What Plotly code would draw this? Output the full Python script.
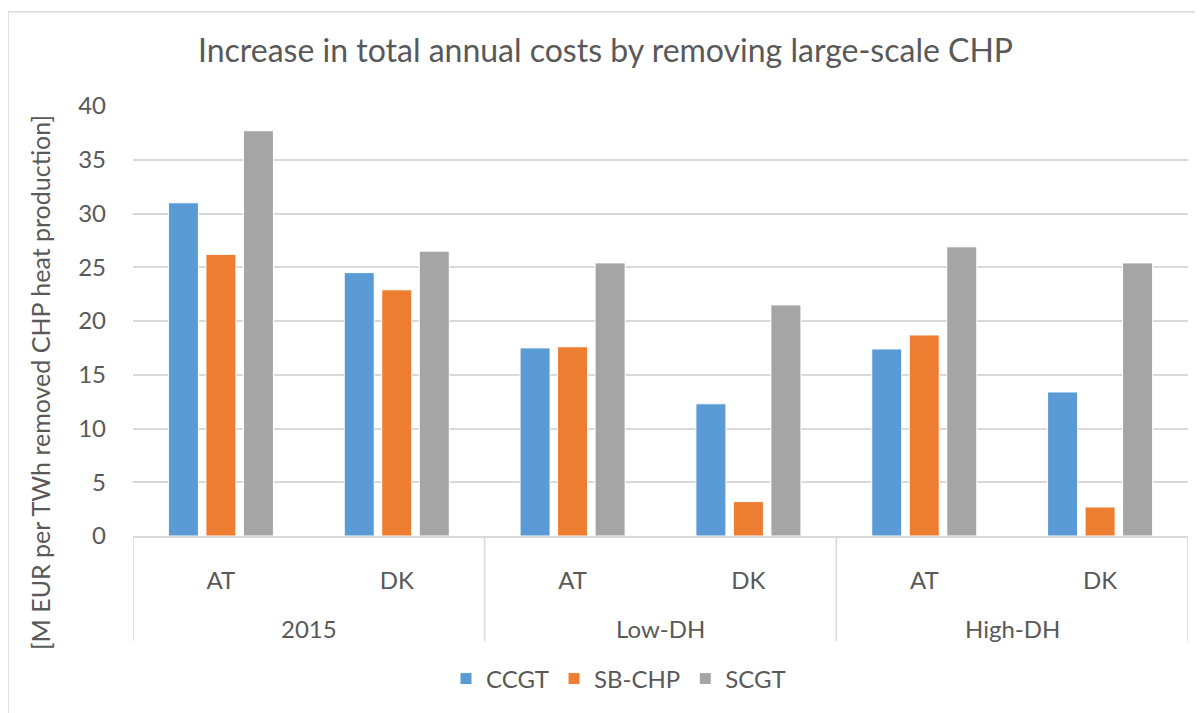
import plotly.graph_objects as go

# scenario groups and countries
scenarios = ["2015", "Low-DH", "High-DH"]
countries = ["AT", "DK", "AT", "DK", "AT", "DK"]

# M EUR per TWh removed CHP heat production
ccgt = [31.0, 24.5, 17.5, 12.3, 17.4, 13.4]
sb_chp = [26.2, 22.9, 17.6, 3.2, 18.7, 2.7]
scgt = [37.7, 26.5, 25.4, 21.5, 26.9, 25.4]

y_ticks = [0, 5, 10, 15, 20, 25, 30, 35, 40]

txt = "#595959"
grid = "#D9D9D9"
font_name = "Lato"

# the page puts the figure 8px in from the window corner
OFF = 8
W, H = 1203 - OFF, 713 - OFF
L, R, T, B = 133 - OFF, 15, 106 - OFF, 713 - 539
pw, ph = W - L - R, H - T - B


def px(x):  # window pixel -> paper x
    return (x - OFF - L) / pw


def py(y):  # window pixel -> paper y
    return (H - B - (y - OFF)) / ph


xpos = list(range(len(countries)))

fig = go.Figure()
for name, vals, col in [("CCGT", ccgt, "#5B9BD5"),
                        ("SB-CHP", sb_chp, "#ED7D31"),
                        ("SCGT", scgt, "#A5A5A5")]:
    fig.add_trace(go.Bar(
        x=xpos, y=vals, name=name,
        marker=dict(color=col, line=dict(color="white", width=1)),
    ))

annos = [dict(
    text="[M EUR per TWh removed CHP heat production]",
    textangle=-90, xref="paper", yref="paper",
    x=px(40), y=py(385), xanchor="center", yanchor="middle",
    showarrow=False, font=dict(size=25, color=txt))]
# outer level labels, centred under each pair of countries
for i, s in enumerate(scenarios):
    annos.append(dict(text=s, xref="x", yref="paper", x=2 * i + 0.5,
                      y=py(632), xanchor="center", yanchor="middle",
                      showarrow=False, font=dict(size=24, color=txt)))

shapes = [
    dict(type="line", xref="paper", yref="paper", x0=px(8), x1=px(1215),
         y0=py(11), y1=py(11), line=dict(color=grid, width=1.5)),
    dict(type="line", xref="paper", yref="paper", x0=px(8), x1=px(8),
         y0=py(11), y1=py(725), line=dict(color=grid, width=1.5)),
]
# group dividers below the axis
for b in [-0.5, 1.5, 3.5, 5.5]:
    shapes.append(dict(type="line", xref="x", yref="paper", x0=b, x1=b,
                       y0=0, y1=py(645), line=dict(color=grid, width=1.5)))

fig.update_layout(
    width=W, height=H,
    margin=dict(l=L, r=R, t=T, b=B),
    paper_bgcolor="white", plot_bgcolor="white",
    font=dict(family=font_name, color=txt, size=24),
    title=dict(text="Increase in total annual costs by removing large-scale CHP",
               x=0.5, xanchor="center", y=1 - (51 - OFF) / H, yanchor="middle",
               font=dict(size=32, color=txt)),
    barmode="group", bargap=0.36, bargroupgap=0.2,
    legend=dict(orientation="h", x=px(446), xanchor="left",
                y=py(683), yanchor="middle", font=dict(size=24),
                itemwidth=30, traceorder="normal"),
    xaxis=dict(tickmode="array", tickvals=xpos, ticktext=countries,
               range=[-0.5, 5.5], showline=True, linecolor=grid,
               linewidth=1.5, ticks="", ticklabelstandoff=22,
               tickfont=dict(size=24, color=txt), showgrid=False),
    yaxis=dict(range=[0, 40], tickvals=y_ticks, showgrid=True,
               gridcolor=grid, gridwidth=1.5, zeroline=False,
               showline=False, ticks="", ticklabelstandoff=26,
               tickfont=dict(size=24, color=txt)),
    annotations=annos,
    shapes=shapes,
)

fig.write_html("out.html")
